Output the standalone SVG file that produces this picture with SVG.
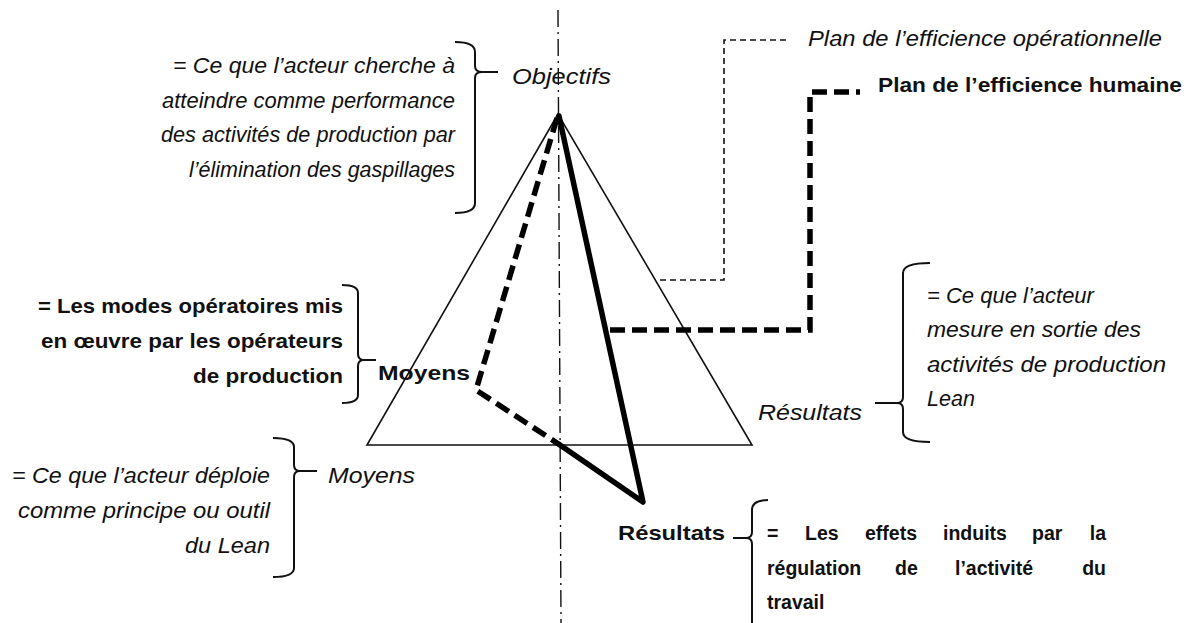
<svg xmlns="http://www.w3.org/2000/svg" width="1190" height="623" viewBox="0 0 1190 623">
  <style>
    .it { font-family: "Liberation Sans", Arial, sans-serif; font-style: italic; font-size: 22px; fill: #111; }
    .bd { font-family: "Liberation Sans", Arial, sans-serif; font-weight: bold; font-size: 21px; fill: #111; }
    .bs { font-family: "Liberation Sans", Arial, sans-serif; font-weight: bold; font-size: 19.5px; fill: #111; }
    .brace { fill: none; stroke: #111; stroke-width: 2; }
    .thin { fill: none; stroke: #111; stroke-width: 1.6; }
    .axis { fill: none; stroke: #111; stroke-width: 1.4; stroke-dasharray: 17 5 2 5; }
    .thinDash { fill: none; stroke: #111; stroke-width: 1.6; stroke-dasharray: 6 4; }
    .thickDash { fill: none; stroke: #000; stroke-width: 5.5; stroke-dasharray: 15 7; }
    .thick { fill: none; stroke: #000; stroke-width: 5.5; stroke-linejoin: round; stroke-linecap: round; }
  </style>
  <rect width="1190" height="623" fill="#fff"/>

  <!-- vertical axis (dash-dot) -->
  <line class="axis" x1="558" y1="10" x2="561" y2="623"/>

  <!-- operational efficiency plane: base triangle -->
  <g id="triangle-operationnel">
    <polygon class="thin" points="558,114 367,445 752,445"/>
  </g>

  <!-- human efficiency plane: tilted triangle -->
  <g id="triangle-humain">
    <polyline class="thickDash" points="557,118 476,390 560,445"/>
    <polyline class="thick" points="560,445 643,502 559,116"/>
  </g>

  <!-- plane labels and leader lines -->
  <g id="connecteurs">
    <polyline class="thinDash" points="660,280 724,280 724,40 790,40"/>
    <polyline class="thickDash" points="610,330 810,330 810,92 860,92"/>
  </g>

  <g id="label-plan-operationnel">
    <text class="it" x="808" y="46" textLength="354" lengthAdjust="spacingAndGlyphs">Plan de l’efficience opérationnelle</text>
  </g>
  <g id="label-plan-humain">
    <text class="bd" x="878" y="92" textLength="304" lengthAdjust="spacingAndGlyphs">Plan de l’efficience humaine</text>
  </g>

  <!-- Objectifs -->
  <g id="objectifs">
    <text class="it" x="512" y="84" textLength="99" lengthAdjust="spacingAndGlyphs">Objectifs</text>
    <path class="brace" d="M455,42 Q475,42 475,52 V66 Q475,72 482,72 H498 M482,72 Q475,72 475,78 V203 Q475,213 455,213"/>
    <g class="it" text-anchor="end">
      <text x="455" y="73" textLength="282" lengthAdjust="spacingAndGlyphs">= Ce que l’acteur cherche à</text>
      <text x="455" y="108" textLength="293" lengthAdjust="spacingAndGlyphs">atteindre comme performance</text>
      <text x="455" y="142" textLength="294" lengthAdjust="spacingAndGlyphs">des activités de production par</text>
      <text x="455" y="177" textLength="266" lengthAdjust="spacingAndGlyphs">l’élimination des gaspillages</text>
    </g>
  </g>

  <!-- Moyens (human plane) -->
  <g id="moyens-humain">
    <text class="bd" x="378" y="380" textLength="92" lengthAdjust="spacingAndGlyphs">Moyens</text>
    <path class="brace" d="M342,285 Q358,285 358,293 V354 Q358,360 364,360 H376 M364,360 Q358,360 358,366 V395 Q358,403 342,403"/>
    <g class="bd" text-anchor="end">
      <text x="343" y="313" textLength="305" lengthAdjust="spacingAndGlyphs">= Les modes opératoires mis</text>
      <text x="343" y="348" textLength="302" lengthAdjust="spacingAndGlyphs">en œuvre par les opérateurs</text>
      <text x="343" y="383" textLength="150" lengthAdjust="spacingAndGlyphs">de production</text>
    </g>
  </g>

  <!-- Moyens (operational plane) -->
  <g id="moyens-operationnel">
    <text class="it" x="328" y="483" textLength="87" lengthAdjust="spacingAndGlyphs">Moyens</text>
    <path class="brace" d="M273,438 Q294,438 294,447 V465 Q294,471 300,471 H317 M300,471 Q294,471 294,477 V568 Q294,577 273,577"/>
    <g class="it" text-anchor="end">
      <text x="270" y="483" textLength="258" lengthAdjust="spacingAndGlyphs">= Ce que l’acteur déploie</text>
      <text x="270" y="518" textLength="252" lengthAdjust="spacingAndGlyphs">comme principe ou outil</text>
      <text x="270" y="553" textLength="85" lengthAdjust="spacingAndGlyphs">du Lean</text>
    </g>
  </g>

  <!-- Résultats (operational plane) -->
  <g id="resultats-operationnel">
    <text class="it" x="758" y="420" textLength="104" lengthAdjust="spacingAndGlyphs">Résultats</text>
    <path class="brace" d="M930,263 Q903,263 903,273 V397 Q903,403 897,403 H875 M897,403 Q903,403 903,409 V432 Q903,442 930,442"/>
    <g class="it">
      <text x="927" y="303">= Ce que l’acteur</text>
      <text x="927" y="337" textLength="214" lengthAdjust="spacingAndGlyphs">mesure en sortie des</text>
      <text x="927" y="372" textLength="239" lengthAdjust="spacingAndGlyphs">activités de production</text>
      <text x="927" y="406" textLength="48" lengthAdjust="spacingAndGlyphs">Lean</text>
    </g>
  </g>

  <!-- Résultats (human plane) -->
  <g id="resultats-humain">
    <text class="bd" x="618" y="540" textLength="107" lengthAdjust="spacingAndGlyphs">Résultats</text>
    <path class="brace" d="M768,500 Q752,500 752,510 V532 Q752,538 746,538 H733 M746,538 Q752,538 752,544 V623"/>
    <!-- justified paragraph, one word per text -->
    <g class="bs">
      <text x="767" y="540">=</text>
      <text x="805" y="540">Les</text>
      <text x="865" y="540">effets</text>
      <text x="943" y="540">induits</text>
      <text x="1032" y="540">par</text>
      <text x="1106" y="540" text-anchor="end">la</text>
      <text x="767" y="575">régulation</text>
      <text x="895" y="575">de</text>
      <text x="955" y="575">l’activité</text>
      <text x="1106" y="575" text-anchor="end">du</text>
      <text x="767" y="609">travail</text>
    </g>
  </g>
</svg>
